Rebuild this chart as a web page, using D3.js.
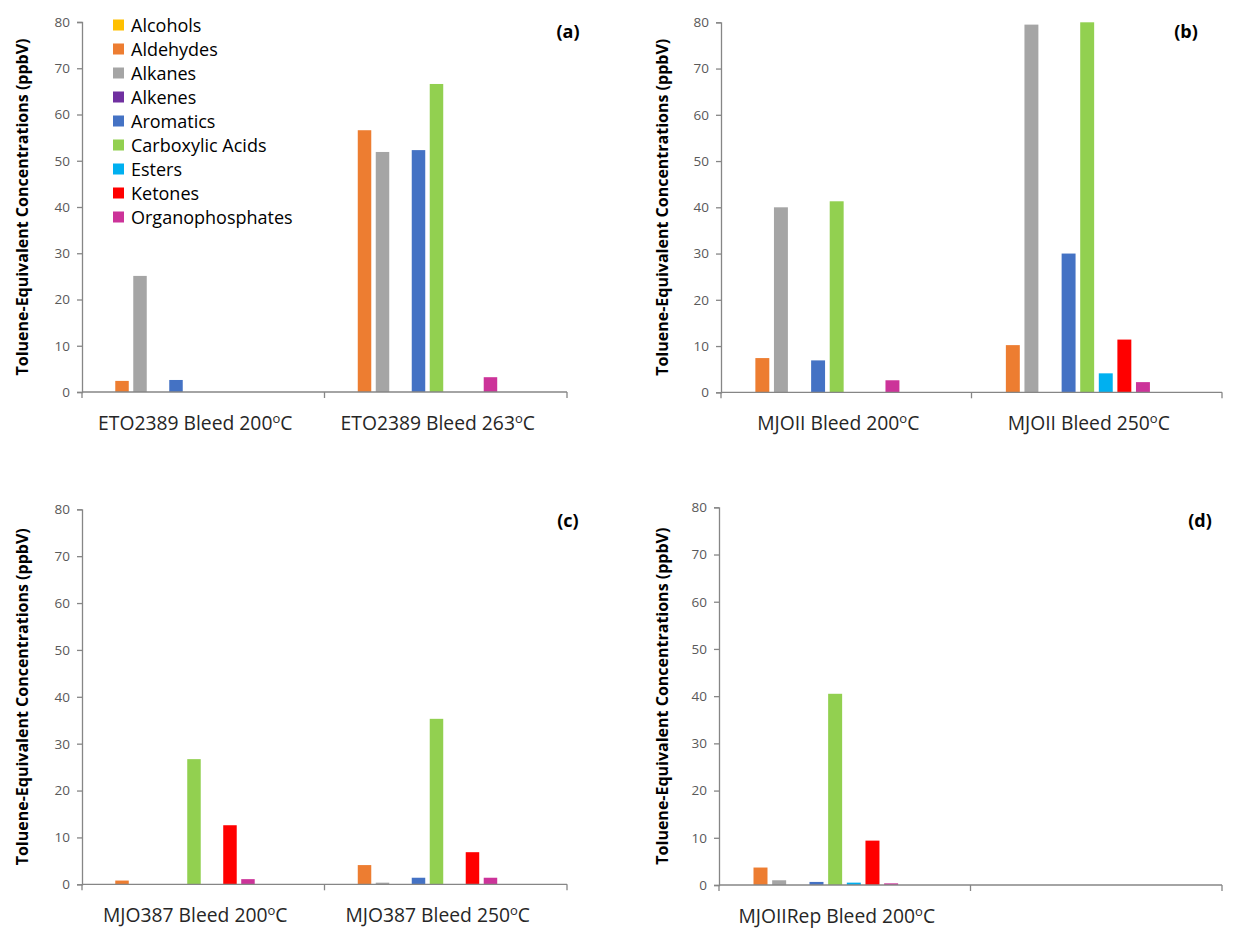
<!DOCTYPE html>
<html>
<head>
<meta charset="utf-8">
<script src="https://cdn.jsdelivr.net/npm/d3@7"></script>
<style>
  html, body { margin: 0; padding: 0; background: #fff; }
  svg { display: block; font-family: "Open Sans", "Noto Sans", sans-serif; }
</style>
</head>
<body>
<svg id="chart" width="1241" height="929"></svg>
<script>
// ---- data ----
const seriesNames = ["Alcohols", "Aldehydes", "Alkanes", "Alkenes", "Aromatics",
  "Carboxylic Acids", "Esters", "Ketones", "Organophosphates"];
const seriesColors = ["#FFC000", "#ED7D31", "#A5A5A5", "#7030A0", "#4472C4",
  "#92D050", "#00B0F0", "#FF0000", "#CC3399"];
const yTicks = [0, 10, 20, 30, 40, 50, 60, 70, 80];

const catsA = ["ETO2389 Bleed 200°C", "ETO2389 Bleed 263°C"];
const valuesA = [
  [0, 2.4, 25.1, 0, 2.6, 0, 0, 0, 0],
  [0, 56.6, 51.9, 0, 52.3, 66.6, 0, 0, 3.2]
];
const catsB = ["MJOII Bleed 200°C", "MJOII Bleed 250°C"];
const valuesB = [
  [0, 7.4, 40.0, 0, 6.9, 41.3, 0, 0, 2.6],
  [0, 10.2, 79.5, 0, 30.0, 80.0, 4.1, 11.4, 2.2]
];
const catsC = ["MJO387 Bleed 200°C", "MJO387 Bleed 250°C"];
const valuesC = [
  [0, 0.8, 0, 0, 0, 26.7, 0, 12.6, 1.1],
  [0, 4.1, 0.35, 0, 1.4, 35.3, 0, 6.85, 1.4]
];
const catsD = ["MJOIIRep Bleed 200°C", ""];
const valuesD = [
  [0, 3.7, 1.0, 0, 0.65, 40.5, 0.5, 9.4, 0.35],
  [0, 0, 0, 0, 0, 0, 0, 0, 0]
];

// ---- layout ----
const panels = [
  { tag: "(a)", cats: catsA, vals: valuesA, x0: 82, x1: 567, yTop: 22, yBot: 392, tagX: 568, tagY: 38, titleX: 22, legend: true },
  { tag: "(b)", cats: catsB, vals: valuesB, x0: 721, x1: 1222, yTop: 22.3, yBot: 392.3, tagX: 1186, tagY: 38, titleX: 662 },
  { tag: "(c)", cats: catsC, vals: valuesC, x0: 82, x1: 567, yTop: 509.3, yBot: 884.3, tagX: 568, tagY: 527, titleX: 22 },
  { tag: "(d)", cats: catsD, vals: valuesD, x0: 719, x1: 1222, yTop: 507.3, yBot: 885, tagX: 1200, tagY: 527, titleX: 662 }
];

const svg = d3.select("#chart");
const axisColor = "#868686";
const tickText = "#595959";

panels.forEach(p => {
  const g = svg.append("g");
  const y = d3.scaleLinear().domain([0, 80]).range([p.yBot, p.yTop]);
  const x0 = d3.scaleBand().domain(d3.range(p.cats.length)).range([p.x0, p.x1]).padding(0);
  const bw = x0.bandwidth();
  const x1 = d3.scaleBand().domain(seriesNames)
    .range([0.0537 * bw, 0.7215 * bw]).paddingInner(0.25).paddingOuter(0.125);

  // bars
  p.cats.forEach((c, ci) => {
    const grp = g.append("g").attr("transform", `translate(${x0(ci)},0)`);
    grp.selectAll("rect").data(p.vals[ci].map((v, si) => ({ v, s: seriesNames[si], c: seriesColors[si] })))
      .join("rect")
      .attr("x", d => x1(d.s))
      .attr("width", x1.bandwidth())
      .attr("y", d => y(d.v))
      .attr("height", d => y(0) - y(d.v))
      .attr("fill", d => d.c);
  });

  // y axis
  const yAxis = d3.axisLeft(y).tickValues(yTicks).tickSize(5).tickPadding(7);
  const ya = g.append("g").attr("transform", `translate(${p.x0},0)`).call(yAxis);
  ya.select(".domain").attr("stroke", axisColor).attr("stroke-width", 1.3);
  ya.selectAll(".tick line").attr("stroke", axisColor).attr("stroke-width", 1.3);
  ya.selectAll(".tick text").attr("fill", tickText).attr("font-size", 13.5)
    .attr("font-family", "'Open Sans', sans-serif");

  // x axis
  const xa = g.append("g").attr("transform", `translate(0,${p.yBot})`);
  xa.append("line").attr("x1", p.x0).attr("x2", p.x1).attr("y1", 0).attr("y2", 0)
    .attr("stroke", axisColor).attr("stroke-width", 1.3);
  const bounds = d3.range(p.cats.length + 1).map(i => i < p.cats.length ? x0(i) : p.x1);
  xa.selectAll("line.tk").data(bounds).join("line").attr("class", "tk")
    .attr("x1", d => d).attr("x2", d => d).attr("y1", 0).attr("y2", 6)
    .attr("stroke", axisColor).attr("stroke-width", 1.3);

  // category labels with superscript o
  p.cats.forEach((c, ci) => {
    if (!c) return;
    const parts = c.split("°");
    const t = xa.append("text")
      .attr("x", x0(ci) + bw / 2 - 8).attr("y", 38)
      .attr("text-anchor", "middle").attr("font-size", 19.3).attr("fill", "#262626");
    t.append("tspan").text(parts[0]);
    if (parts.length > 1) {
      t.append("tspan").attr("font-size", 13).attr("dy", -7.5).text("o");
      t.append("tspan").attr("dy", 7.5).text(parts[1]);
    }
  });

  // y title
  g.append("text")
    .attr("transform", `translate(${p.titleX},${(p.yTop + p.yBot) / 2}) rotate(-90)`)
    .attr("text-anchor", "middle").attr("dominant-baseline", "central")
    .attr("font-size", 16).attr("font-weight", "bold").attr("fill", "#000")
    .text("Toluene-Equivalent Concentrations (ppbV)");

  // panel tag
  g.append("text").attr("x", p.tagX).attr("y", p.tagY).attr("text-anchor", "middle")
    .attr("font-size", 18).attr("font-weight", "bold").attr("fill", "#000").text(p.tag);

  // legend
  if (p.legend) {
    const lg = g.append("g").attr("transform", "translate(113,25)");
    const rows = lg.selectAll("g").data(seriesNames).join("g")
      .attr("transform", (d, i) => `translate(0,${i * 24})`);
    rows.append("rect").attr("x", 0).attr("y", -5.5).attr("width", 11).attr("height", 11)
      .attr("fill", (d, i) => seriesColors[i]);
    rows.append("text").attr("x", 18).attr("y", 0).attr("dominant-baseline", "central")
      .attr("font-size", 18).attr("fill", "#000").text(d => d);
  }
});
</script>
</body>
</html>
